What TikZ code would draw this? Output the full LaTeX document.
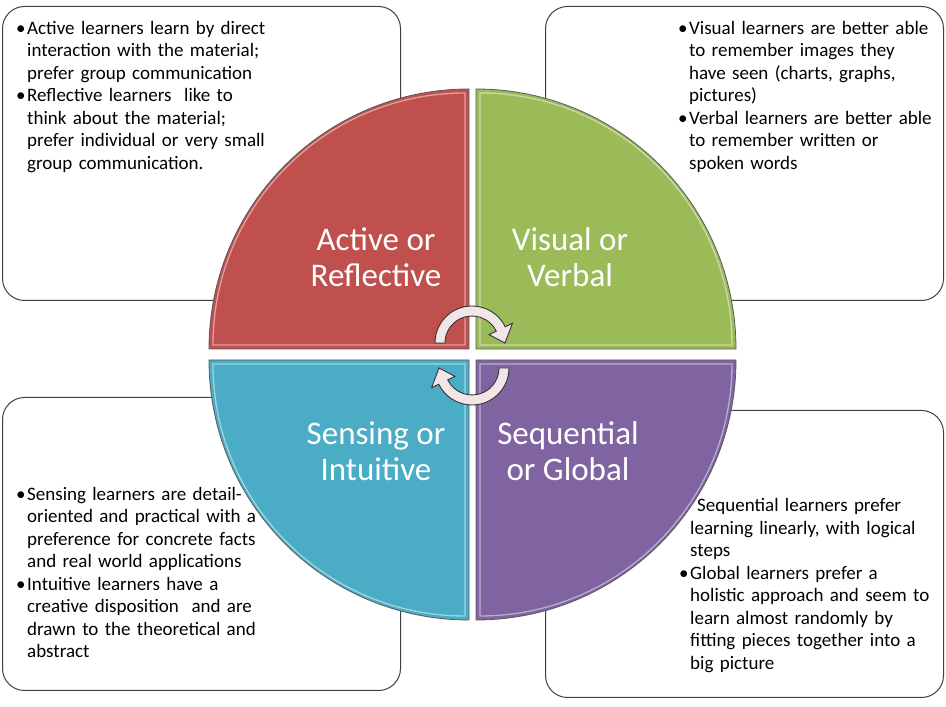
\documentclass[tikz,border=0pt]{standalone}
\usepackage{fontspec}
\setmainfont{Carlito}
\usetikzlibrary{positioning,calc}

\definecolor{redq}{RGB}{192,80,77}
\definecolor{greenq}{RGB}{155,187,89}
\definecolor{blueq}{RGB}{75,172,198}
\definecolor{purpleq}{RGB}{128,100,162}
\definecolor{turnfill}{RGB}{242,229,231}

% bullet line with hanging indent
\newcommand\lbullet{\par\noindent\hangindent=11pt\hangafter=1\makebox[11pt][l]{\textbullet}}

\begin{document}
\begin{tikzpicture}[x=1pt, y=1pt,
    box/.style = {draw=black!75, line width=1pt, rounded corners=22pt, fill=white, inner sep=0pt, anchor=north west},
    note/.style = {inner sep=0pt, text width=275pt, align=left, font=\fontsize{19}{22.5}\selectfont},
    quad/.style = {draw=black!65, line width=0.8pt},
    shine/.style = {line width=1.3pt, opacity=0.85},
    qlabel/.style = {text=white, align=center, font=\fontsize{33}{36}\selectfont},
    turnarrow/.style = {fill=turnfill, draw=black!80, line width=0.9pt}]
    \path[use as bounding box, fill=white] (0,0) rectangle (946,707);

    % text boxes
    \node[box, minimum width=398pt, minimum height=294pt] (b1) at (2,701) {};
    \node[box, minimum width=398pt, minimum height=294pt] (b2) at (545,701) {};
    \node[box, minimum width=398pt, minimum height=293pt] (b3) at (2,310) {};
    \node[box, minimum width=398pt, minimum height=287pt] (b4) at (545,297) {};

    \node[note] (t1) [below right=5.5pt and 14pt of b1.north west]
        {\lbullet Active learners learn by direct\newline interaction with the material;\newline prefer group communication
         \lbullet Reflective learners\ \ like to\newline think about the material;\newline prefer individual or very small\newline group communication.\par};
    \node[note] (t2) [below right=5.5pt and 133pt of b2.north west]
        {\lbullet Visual learners are better able\newline to remember images they\newline have seen (charts, graphs,\newline pictures)
         \lbullet Verbal learners are better able\newline to remember written or\newline spoken words\par};
    \node[note] (t3) [below right=80.5pt and 14pt of b3.north west]
        {\lbullet Sensing learners are detail-\newline oriented and practical with a\newline preference for concrete facts\newline and real world applications
         \lbullet Intuitive learners have a\newline creative disposition\ \ and are\newline drawn to the theoretical and\newline abstract\par};
    \node[note] (t4) [below right=88.5pt and 134pt of b4.north west]
        {\noindent\hangindent=11pt\hangafter=1\hspace*{18pt}Sequential learners prefer\newline learning linearly, with logical\newline steps
         \lbullet Global learners prefer a\newline holistic approach and seem to\newline learn almost randomly by\newline fitting pieces together into a\newline big picture\par};

    % quarter circles
    \coordinate (q1) at (469,358);
    \coordinate (q2) at (476,358);
    \coordinate (q3) at (469,347);
    \coordinate (q4) at (476,347);
    \draw[quad, fill=redq] (q1) -- ++(-260,0) arc[start angle=180, end angle=90, radius=260] -- cycle;
    \draw[shine, redq!45!white] ($(q1)+(-4,4)$) -- ++(-252,0) arc[start angle=180, end angle=90, radius=252] -- cycle;
    \draw[quad, fill=greenq] (q2) -- ++(0,260) arc[start angle=90, end angle=0, radius=260] -- cycle;
    \draw[shine, greenq!45!white] ($(q2)+(4,4)$) -- ++(0,252) arc[start angle=90, end angle=0, radius=252] -- cycle;
    \draw[quad, fill=blueq] (q3) -- ++(0,-260) arc[start angle=270, end angle=180, radius=260] -- cycle;
    \draw[shine, blueq!45!white] ($(q3)+(-4,-4)$) -- ++(0,-252) arc[start angle=270, end angle=180, radius=252] -- cycle;
    \draw[quad, fill=purpleq] (q4) -- ++(260,0) arc[start angle=0, end angle=-90, radius=260] -- cycle;
    \draw[shine, purpleq!45!white] ($(q4)+(4,-4)$) -- ++(252,0) arc[start angle=0, end angle=-90, radius=252] -- cycle;

    \node[qlabel] (active)     at ($(q1)+(-93,92)$)  {Active or\\Reflective};
    \node[qlabel] (visual)     at ($(q2)+(94,92)$)   {Visual or\\Verbal};
    \node[qlabel] (sensing)    at ($(q3)+(-93,-91)$) {Sensing or\\Intuitive};
    \node[qlabel] (sequential) at ($(q4)+(92,-91)$)  {Sequential\\or Global};

    % turning arrows
    \coordinate (ctop) at (472,364);
    \coordinate (cbot) at (472,339);
    \draw[turnarrow, shift={(ctop)}] (180:27) -- (180:37) arc[start angle=180, end angle=26, radius=37]
        -- (26:45) -- (0:33) -- (26:19) -- (26:27) arc[start angle=26, end angle=180, radius=27] -- cycle;
    \draw[turnarrow, shift={(cbot)}, rotate=180] (180:27) -- (180:37) arc[start angle=180, end angle=26, radius=37]
        -- (26:45) -- (0:33) -- (26:19) -- (26:27) arc[start angle=26, end angle=180, radius=27] -- cycle;
\end{tikzpicture}
\end{document}
